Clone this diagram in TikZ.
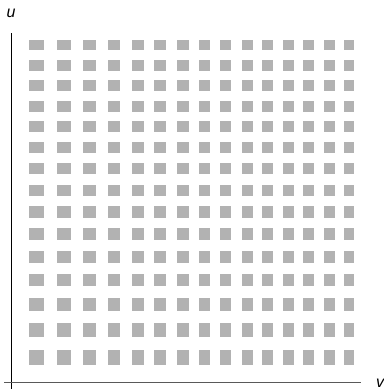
\documentclass[tikz,border=0pt]{standalone}
\usepackage{fontspec}
\setmainfont{Liberation Sans}
\begin{document}
\begin{tikzpicture}[x=1pt,y=-1pt,
  cell/.style={fill=black!30},
  axislbl/.style={font=\fontsize{16}{18}\selectfont\itshape, inner sep=0pt}]
\useasboundingbox (0,0) rectangle (383,391);
\foreach \xa/\xb in {29/44,57/71,83/96,108/120,132/144,154/166,177/189,199/210,220/231,242/253,262/273,283/294,303/314,324/335,344/354}{
  \foreach \ya/\yb in {40/50,60/71,80/91,101/112,121/132,142/153,163/174,185/196,206/218,228/240,251/263,274/286,298/311,323/337,350/365}{
    \fill[cell] (\xa,\ya) rectangle (\xb,\yb);
  }
}
\coordinate (vtop) at (11.8,33);
\coordinate (vbot) at (11.8,389);
\coordinate (hl) at (4,382.5);
\coordinate (hr) at (361,382.5);
\draw[black, line width=1pt] (vtop) -- (vbot);
\draw[black!65, line width=1.3pt] (hl) -- (hr);
\node[axislbl, anchor=base west] (u) at (6.5,17) {u};
\node[axislbl, anchor=base west] (v) at (376,387) {v};
\end{tikzpicture}
\end{document}
